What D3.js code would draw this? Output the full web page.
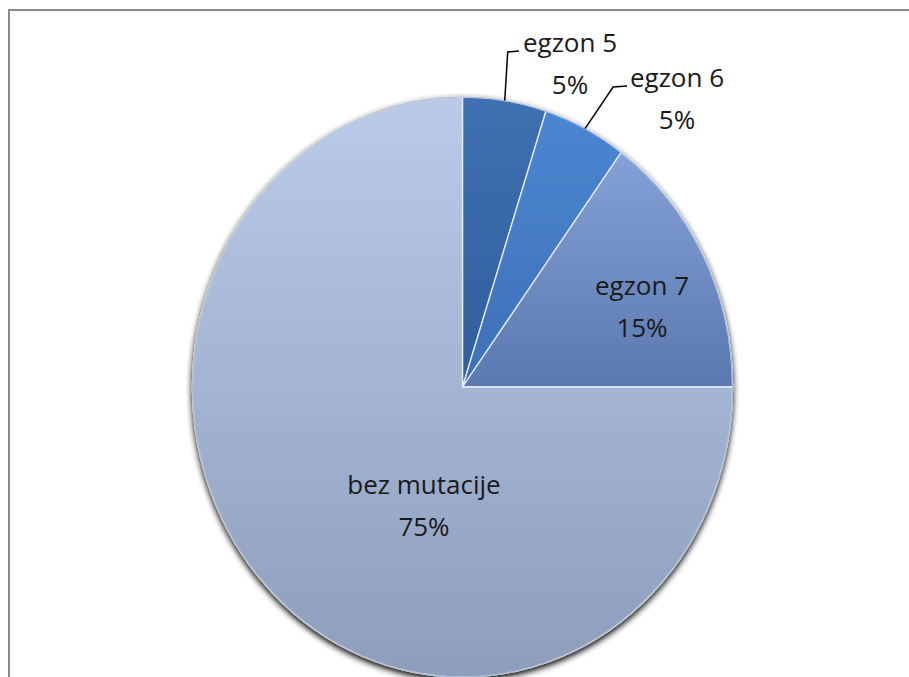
<!DOCTYPE html>
<html>
<head>
<meta charset="utf-8">
<script src="https://cdn.jsdelivr.net/npm/d3@7"></script>
<style>
  body { margin: 0; background: #fff; overflow: hidden; }
  text { font-family: "Open Sans", sans-serif; fill: #1a1a1a; }
</style>
</head>
<body>
<div id="canvas"></div>
<script>
"use strict";

// Chart data
let labels = ["egzon 5", "egzon 6", "egzon 7", "bez mutacije"];
let values = [5, 5, 15, 75];
let percents = ["5%", "5%", "15%", "75%"];

// Slice colours (top, bottom of gradient)
let topColors = ["#3e70b2", "#4b86d2", "#84a2d8", "#bacbe9"];
let bottomColors = ["#315e9c", "#3d70b6", "#5a78ae", "#8d9ebd"];

let svgWidth = 909;
let svgHeight = 677;

let svg = d3.select("#canvas")
    .append("svg")
    .style("display", "block")
    .attr("width", svgWidth)
    .attr("height", svgHeight);

// Outer frame (only top and left edges fall inside the picture)
svg.append("path")
    .attr("d", `M9,${svgHeight} L9,10 L${svgWidth},10`)
    .attr("fill", "none")
    .attr("stroke", "#8a8a8a")
    .attr("stroke-width", 2);

// Pie geometry: a circle squeezed into an ellipse
let cx = 462.5, cy = 387;
let rx = 270, ry = 290;

let defs = svg.append("defs");
labels.forEach((l, i) => {
    let g = defs.append("linearGradient")
        .attr("id", "grad" + i)
        .attr("x1", "0%").attr("y1", "0%")
        .attr("x2", "0%").attr("y2", "100%");
    g.append("stop").attr("offset", "0%").attr("stop-color", topColors[i]);
    g.append("stop").attr("offset", "100%").attr("stop-color", bottomColors[i]);
});

let shadow = defs.append("filter").attr("id", "shadow")
    .attr("x", "-10%").attr("y", "-10%").attr("width", "120%").attr("height", "120%");
shadow.append("feGaussianBlur").attr("in", "SourceAlpha").attr("stdDeviation", 3);
shadow.append("feOffset").attr("dx", 0).attr("dy", 3).attr("result", "blur");
let merge = shadow.append("feMerge");
merge.append("feMergeNode").attr("in", "blur");
merge.append("feMergeNode").attr("in", "SourceGraphic");

let pie = d3.pie().sort(null).value(d => d)(values);
let arc = d3.arc().innerRadius(0).outerRadius(rx);

let pieG = svg.append("g")
    .attr("transform", `translate(${cx},${cy}) scale(1,${ry / rx})`);

pieG.append("g")
    .attr("filter", "url(#shadow)")
    .selectAll("path")
    .data(pie)
    .join("path")
    .attr("d", arc)
    .attr("fill", (d, i) => `url(#grad${i})`)
    .attr("stroke", "#e8eef8")
    .attr("stroke-width", 1.3)
    .attr("vector-effect", "non-scaling-stroke");

// thin rim round the whole pie
pieG.append("ellipse")
    .attr("rx", rx)
    .attr("ry", rx)
    .attr("fill", "none")
    .attr("stroke", "#6d7d98")
    .attr("stroke-opacity", 0.5)
    .attr("stroke-width", 1)
    .attr("vector-effect", "non-scaling-stroke");

// point on ellipse at a pie angle and radius fraction
function pt(angle, k) {
    return [cx + Math.sin(angle) * rx * k, cy - Math.cos(angle) * ry * k];
}

let fontSize = 26;
let lineGap = 42;

// inside labels: offset from centre (dx, dy) for the first line
let inside = [
    { i: 2, x: 642, y: 295 },
    { i: 3, x: 424, y: 494 }
];
inside.forEach(o => {
    let t = svg.append("text")
        .attr("text-anchor", "middle")
        .style("font-size", fontSize + "px");
    t.append("tspan").attr("x", o.x).attr("y", o.y).text(labels[o.i]);
    t.append("tspan").attr("x", o.x).attr("dy", lineGap).text(percents[o.i]);
});

// outside labels with leaders
let outside = [
    { i: 0, tx: 570, ty: 52, ex: 3, lx: 519 },
    { i: 1, tx: 677, ty: 87, ex: 28, lx: 627 }
];
outside.forEach(o => {
    let d = pie[o.i];
    let mid = (d.startAngle + d.endAngle) / 2;
    let p = pt(mid, 1.0);
    svg.append("path")
        .attr("d", `M${p[0]},${p[1]} L${p[0] + o.ex},${o.ty} L${o.lx},${o.ty - 1}`)
        .attr("fill", "none")
        .attr("stroke", "#000")
        .attr("stroke-width", 1.5);
    let t = svg.append("text")
        .attr("text-anchor", "middle")
        .style("font-size", fontSize + "px");
    t.append("tspan").attr("x", o.tx).attr("y", o.ty).text(labels[o.i]);
    t.append("tspan").attr("x", o.tx).attr("dy", lineGap).text(percents[o.i]);
});
</script>
</body>
</html>
